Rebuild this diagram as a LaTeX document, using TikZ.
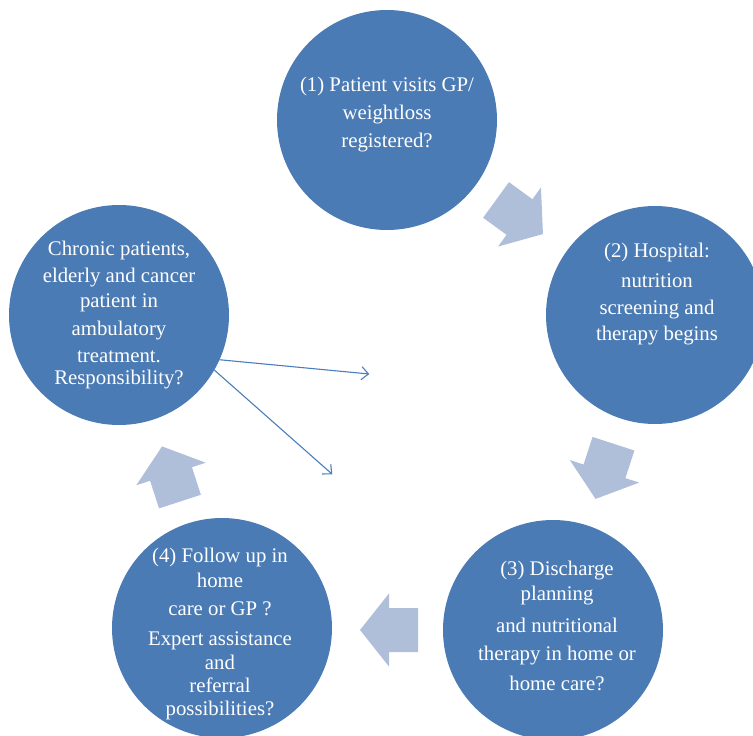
\documentclass[tikz,border=0pt]{standalone}
\usepackage{fontspec}
\setmainfont{Liberation Serif}
\usetikzlibrary{arrows.meta}
\definecolor{circblue}{HTML}{4B7BB4}
\definecolor{arrblue}{HTML}{AFBFDA}
\definecolor{lineblue}{HTML}{4A7EBB}
\tikzset{
  x=1pt, y=-1pt,
  stage/.style={circle, fill=circblue, draw=none, inner sep=0pt, outer sep=0pt, minimum size=220pt},
  stagetext/.style={text=white, align=center, inner sep=0pt, font=\fontsize{20.8}{#1}\selectfont},
  stagetext/.default=26pt,
  blockarrow/.style={fill=arrblue, draw=none},
  thinarrow/.style={draw=lineblue, line width=1.1pt, -{Straight Barb[length=7pt,width=13pt]}}
}
\newcommand{\blockarr}[2]{%
  \fill[blockarrow, shift={#1}, rotate=#2]
    (-29,-22) -- (0,-22) -- (0,-36.5) -- (29,0) -- (0,36.5) -- (0,22) -- (-29,22) -- cycle;}
\begin{document}
\begin{tikzpicture}
\useasboundingbox (0,0) rectangle (753,736);
% circles
\node[stage] (c1) at (387,120) {};
\node[stage, minimum size=218pt] (c2) at (655,315) {};
\node[stage] (c3) at (553,630) {};
\node[stage] (c4) at (222,628) {};
\node[stage] (c5) at (119,315) {};
% texts
\node[stagetext=28pt] (t1) at (387,115) {(1) Patient visits GP/\\weightloss\\registered?};
\node[stagetext=26pt] (t2) at (657,294.5) {(2) Hospital:\\[4pt]nutrition\\[1pt]screening and\\therapy begins};
\node[stagetext=25pt] (t3) at (557,625.5) {(3) Discharge\\planning\\[7pt]and nutritional\\[3pt]therapy in home or\\[5pt]home care?};
\node[stagetext=23pt] (t4) at (220,633.5) {(4) Follow up in\\[2pt]home\\[5pt]care or GP ?\\[7pt]Expert assistance\\[1pt]and\\referral\\possibilities?};
\node[stagetext=22pt] (t5) at (119,315) {Chronic patients,\\[5pt]elderly and cancer\\[3pt]patient in\\[6pt]ambulatory\\[5pt]treatment.\\Responsibility?};
% block arrows
\blockarr{(519.5,217)}{-36}
\blockarr{(604.5,471.3)}{-108}
\blockarr{(389,630)}{180}
\blockarr{(171,474)}{108}
% thin arrows
\coordinate (e1) at (369.3,374);
\coordinate (e2) at (332.3,474.3);
\draw[thinarrow] (c5.-24.2) -- (e1);
\draw[thinarrow] (c5.-30.4) -- (e2);
\end{tikzpicture}
\end{document}
